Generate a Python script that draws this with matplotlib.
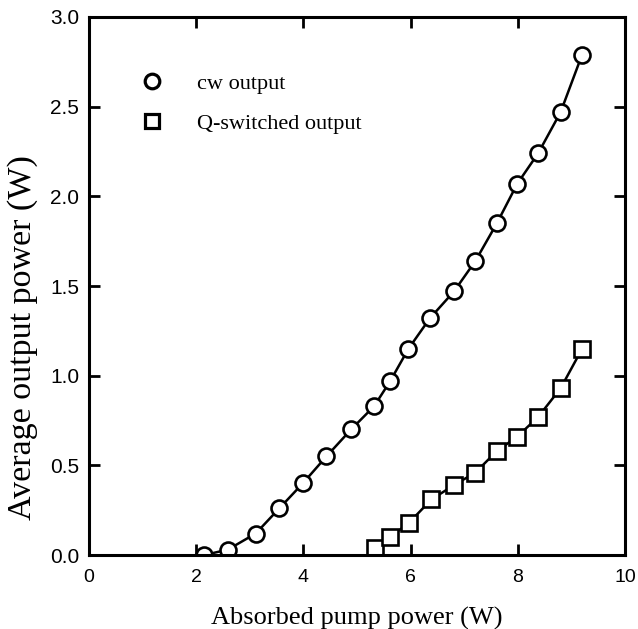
import matplotlib
matplotlib.use("Agg")
import matplotlib.pyplot as plt
from matplotlib.lines import Line2D

# absorbed pump power (W) and average output power (W)
cw_pump = [2.15, 2.59, 3.11, 3.55, 3.99, 4.43, 4.89, 5.32, 5.62, 5.96,
           6.36, 6.81, 7.21, 7.61, 7.99, 8.38, 8.80, 9.20]
cw_power = [0.00, 0.03, 0.12, 0.26, 0.40, 0.55, 0.70, 0.83, 0.97, 1.15,
            1.32, 1.47, 1.64, 1.85, 2.07, 2.24, 2.47, 2.79]

qs_pump = [5.34, 5.62, 5.97, 6.39, 6.81, 7.21, 7.61, 7.99, 8.38, 8.80, 9.20]
qs_power = [0.04, 0.10, 0.18, 0.31, 0.39, 0.46, 0.58, 0.66, 0.77, 0.93, 1.15]

x_ticks = [0, 2, 4, 6, 8, 10]
y_ticks = [0.0, 0.5, 1.0, 1.5, 2.0, 2.5, 3.0]

serif = "Liberation Serif"
sans = "Liberation Sans"

fig = plt.figure(figsize=(6.38, 6.29), dpi=100)
ax = fig.add_axes([0.1395, 0.1176, 0.8401, 0.8554])

mk = dict(color="black", lw=1.8, markersize=11.5, markerfacecolor="white",
          markeredgecolor="black", markeredgewidth=1.9)
ax.plot(cw_pump, cw_power, marker="o", **mk)
ax.plot(qs_pump, qs_power, marker="s", **mk)

ax.set_xlim(0, 10)
ax.set_ylim(0, 3.0)
ax.set_xticks(x_ticks)
ax.set_yticks(y_ticks)
ax.set_xticklabels([str(t) for t in x_ticks], fontfamily=sans, fontsize=14)
ax.set_yticklabels([f"{t:.1f}" for t in y_ticks], fontfamily=sans, fontsize=15)
ax.tick_params(direction="in", top=True, right=True, length=8, width=2)
ax.tick_params(axis="x", pad=10)
ax.tick_params(axis="y", pad=7)
for s in ax.spines.values():
    s.set_linewidth(2.2)

ax.set_xlabel("Absorbed pump power (W)", fontfamily=serif, fontsize=19, labelpad=15)
ax.set_ylabel("Average output power (W)", fontfamily=serif, fontsize=24.5)
ax.yaxis.set_label_coords(-0.096, 0.405)

handles = [
    Line2D([], [], ls="none", marker="o", markersize=10.5, markerfacecolor="white",
           markeredgecolor="black", markeredgewidth=2.3),
    Line2D([], [], ls="none", marker="s", markersize=10, markerfacecolor="white",
           markeredgecolor="black", markeredgewidth=2.3),
]
leg = ax.legend(handles, ["cw output", "Q-switched output"], loc="upper left",
                bbox_to_anchor=(0.06, 0.932), frameon=False, handlelength=1.0,
                handletextpad=1.5, labelspacing=0.85,
                prop={"family": serif, "size": 16})

fig.savefig("out.png", dpi=100)
